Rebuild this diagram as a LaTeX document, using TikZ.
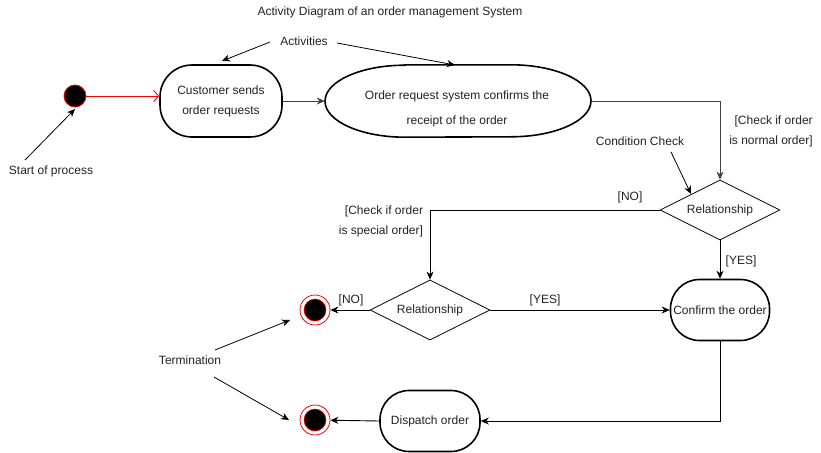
\documentclass[tikz,border=0pt]{standalone}
\usepackage{fontspec}
\setmainfont{Liberation Sans}
\usetikzlibrary{shapes.geometric,arrows.meta}
\definecolor{txt}{HTML}{222222}
\tikzset{
  lbl/.style={font=\fontsize{12}{20}\selectfont, text=txt, inner sep=0pt, align=center},
  act/.style={draw=black, line width=1.6pt, rectangle, inner sep=0pt, align=center,
     font=\fontsize{12}{20}\selectfont, text=txt},
  dec/.style={draw=black, line width=0.8pt, diamond, aspect=2, inner sep=0pt, minimum width=120pt,
     minimum height=60pt, font=\fontsize{12}{14}\selectfont, text=txt},
  flow/.style={draw=black, line width=0.9pt, -{Stealth[length=8pt,width=7pt,inset=2.5pt]}},
  note/.style={draw=black, line width=0.8pt, -{Stealth[length=8pt,width=7pt,inset=2.5pt]}},
  endpt/.style={circle, draw=red, fill=white, line width=0.8pt, minimum size=30pt, inner sep=0pt},
}
\begin{document}
\begin{tikzpicture}[x=1pt,y=-1pt]
\useasboundingbox (0,0) rectangle (821,452);
% title
\node[lbl] (title) at (390,12) {Activity Diagram of an order management System};
\node[lbl] (acts) at (304,41) {Activities};
% start
\node[circle, draw=red, fill=black, line width=0.8pt, minimum size=22pt, inner sep=0pt] (start) at (75,96) {};
\node[lbl] (startlbl) at (51,171) {Start of process};
% activities
\node[act, minimum width=122pt, minimum height=72pt, rounded corners=32pt] (cust) at (221,101)
  {Customer sends\\order requests};
\node[rectangle, minimum width=266pt, minimum height=72pt, inner sep=0pt] (sys) at (458,101) {};
\draw[line width=1.6pt] ([xshift=-53pt]sys.north) -- ([xshift=53pt]sys.north)
   arc[start angle=90,end angle=-90,x radius=80pt,y radius=36pt]
   -- ([xshift=-53pt]sys.south)
   arc[start angle=270,end angle=90,x radius=80pt,y radius=36pt] -- cycle;
\node[lbl, font=\fontsize{12}{25}\selectfont] (systxt) at (457,109) {Order request system confirms the\\receipt of the order};
% decisions
\node[dec] (d1) at (720,210) {Relationship};
\node[dec] (d2) at (430,310) {Relationship};
\node[act, minimum width=99pt, minimum height=61pt, rounded corners=29pt] (conf) at (720,310) {Confirm the order};
\node[act, minimum width=100pt, minimum height=61pt, rounded corners=29pt] (disp) at (430,421) {Dispatch order};
% ends
\node[endpt] (end1) at (315,310) {};
\node[circle, fill=black, draw=red, line width=0.6pt, minimum size=22pt, inner sep=0pt] (end1in) at (end1) {};
\node[endpt] (end2) at (315,420) {};
\node[circle, fill=black, draw=red, line width=0.6pt, minimum size=22pt, inner sep=0pt] (end2in) at (end2) {};
% labels
\node[lbl, align=right] (normal) at (771,131) {[Check if order\\is normal order]};
\node[lbl, align=right] (special) at (381,221) {[Check if order\\is special order]};
\node[lbl] (cond) at (640,141) {Condition Check};
\node[lbl] (no1) at (630,197) {[NO]};
\node[lbl] (yes1) at (741,261) {[YES]};
\node[lbl] (no2) at (351,300) {[NO]};
\node[lbl] (yes2) at (545,300) {[YES]};
\node[lbl] (term) at (190,360) {Termination};
% flows
\draw[draw=red, line width=0.9pt, -{Straight Barb[length=5pt,width=11pt,line width=0.9pt]}] (start.east) -- (start.east -| cust.west);
\draw[flow, draw=black!75] (cust.east) -- (sys.west);
\draw[flow, draw=black!75] (sys.east) -| (d1.north);
\draw[flow] (d1.west) -| (d2.north);
\draw[flow] (d1.south) -- (conf.north);
\draw[flow] (d2.west) -- (end1);
\draw[flow] (d2.east) -- (conf.west);
\draw[flow] (conf.south) |- (disp.east);
\draw[flow] (disp.west) -- (end2);
% annotation arrows
\coordinate (a1s) at (270,42); \coordinate (a1e) at (222,61);
\coordinate (a2s) at (337,43); \coordinate (a2e) at (455,65);
\coordinate (s1s) at (25,160); \coordinate (s1e) at (75,109);
\coordinate (c1s) at (671,152); \coordinate (c1e) at (691,194);
\coordinate (t1s) at (215,350); \coordinate (t1e) at (290,320);
\coordinate (t2s) at (214,377); \coordinate (t2e) at (289,420);
\draw[note] (a1s) -- (a1e);
\draw[note] (a2s) -- (a2e);
\draw[note] (s1s) -- (s1e);
\draw[note] (c1s) -- (c1e);
\draw[note] (t1s) -- (t1e);
\draw[note] (t2s) -- (t2e);
\end{tikzpicture}
\end{document}
